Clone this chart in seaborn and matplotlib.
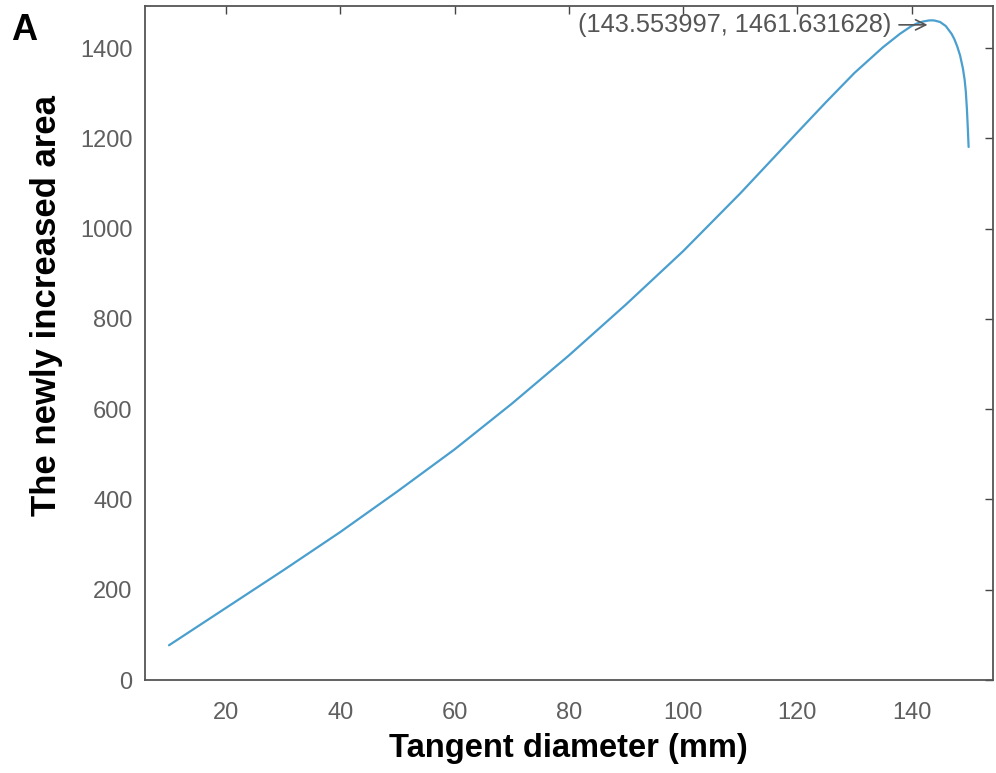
import matplotlib
matplotlib.use("Agg")
import matplotlib.pyplot as plt
import seaborn as sns
import pandas as pd

# Data
diameter = [10, 20, 30, 40, 50, 60, 70, 80, 90, 100, 110, 120, 125, 130, 135,
            138, 140, 141, 142, 143, 143.553997, 144, 145, 146, 147, 147.5, 148,
            148.5, 149, 149.3, 149.5, 149.7, 149.85, 149.95, 150]
area = [77, 160, 243, 328, 418, 511, 612, 719, 832, 950, 1078, 1213, 1280, 1345,
        1402, 1432, 1449, 1455, 1459, 1461.3, 1461.631628, 1461.3, 1458, 1449,
        1432, 1420, 1404, 1384, 1355, 1330, 1305, 1265, 1225, 1195, 1181]
peak_x = 143.553997
peak_y = 1461.631628
x_ticks = [20, 40, 60, 80, 100, 120, 140]
y_ticks = [0, 200, 400, 600, 800, 1000, 1200, 1400]

df = pd.DataFrame({"Tangent diameter (mm)": diameter, "area": area})

sns.set_style("white")
plt.rcParams["font.family"] = ["Liberation Sans", "DejaVu Sans"]

fig = plt.figure(figsize=(9.96, 7.73), dpi=100)
ax = fig.add_axes([0.1456, 0.1203, 0.851, 0.8717])

sns.lineplot(data=df, x="Tangent diameter (mm)", y="area", ax=ax,
             color="#4A9FCF", linewidth=1.6, sort=False)

ax.set_xlim(5.8, 154.2)
ax.set_ylim(0, 1493)
ax.set_xticks(x_ticks)
ax.set_yticks(y_ticks)

tick_color = "#5f5f5f"
ax.tick_params(axis="both", which="major", direction="in", length=6, width=1,
               colors="#444444", labelcolor=tick_color, labelsize=17,
               top=True, right=True)
ax.tick_params(axis="x", pad=16)
ax.tick_params(axis="y", pad=9)
for s in ax.spines.values():
    s.set_color("#555555")
    s.set_linewidth(1.3)
    s.set_visible(True)

ax.set_xlabel("Tangent diameter (mm)", fontsize=23.5, fontweight="bold",
              color="black", va="top")
ax.xaxis.set_label_coords(0.5, -0.078)
ax.set_ylabel("The newly increased area", fontsize=25, fontweight="bold",
              color="black", va="bottom")
ax.yaxis.set_label_coords(-0.097, 0.555)

ax.annotate(f"({peak_x:.6f}, {peak_y:.6f})", xy=(peak_x - 0.75, peak_y - 10),
            xytext=(-36, 0), textcoords="offset pixels",
            ha="right", va="center", fontsize=18.3, color="#555555",
            arrowprops=dict(arrowstyle="->", color="#555555", lw=1.2,
                            shrinkA=3, shrinkB=0))

fig.text(0.024, 0.961, "A", fontsize=26, fontweight="bold", color="black",
         ha="center", va="center")

fig.savefig("out.png", dpi=100)
